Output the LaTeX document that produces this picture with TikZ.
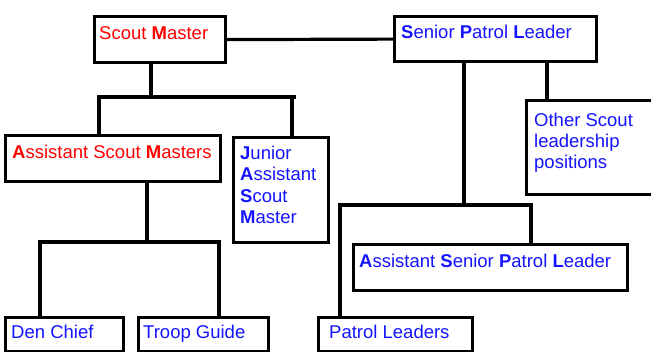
\documentclass[tikz,border=0pt]{standalone}
\usepackage{fontspec}
\setmainfont{Liberation Sans}
\definecolor{tred}{RGB}{255,0,0}
\definecolor{tblue}{RGB}{20,20,255}
\begin{document}
\begin{tikzpicture}[x=1pt,y=-1pt,
  box/.style={draw, line width=3.2pt, inner sep=0pt, anchor=north west, fill=white},
  wire/.style={line width=3.2pt},
  txt/.style={inner sep=0pt, anchor=base west, font=\fontsize{18.5}{21.3}\selectfont},
  rtxt/.style={txt, text=tred},
  btxt/.style={txt, text=tblue}]
\useasboundingbox (0,0) rectangle (651,351);
% boxes
\node[box, minimum width=131pt, minimum height=46pt] (sm) at (93,15) {};
\node[box, minimum width=202pt, minimum height=45pt] (spl) at (393,15) {};
\node[box, minimum width=215pt, minimum height=46pt] (asm) at (4,134) {};
\node[box, minimum width=95pt, minimum height=105pt] (jasm) at (232,136) {};
\node[box, minimum width=140pt, minimum height=94pt] (oth) at (525,99) {};
\node[box, minimum width=274pt, minimum height=46pt] (aspl) at (352,243) {};
\node[box, minimum width=118pt, minimum height=34pt] (den) at (4,316) {};
\node[box, minimum width=130pt, minimum height=34pt] (troop) at (137,316) {};
\node[box, minimum width=154pt, minimum height=34pt] (pl) at (317,316) {};
% texts
\node[rtxt] (smt) at (99,39.5) {Scout \textbf{M}aster};
\node[btxt] (splt) at (401,38.5) {\textbf{S}enior \textbf{P}atrol \textbf{L}eader};
\node[rtxt] (asmt) at (12,158.5) {\textbf{A}ssistant Scout \textbf{M}asters};
\node[btxt] (jt1) at (240,159) {\textbf{J}unior};
\node[btxt] (jt2) at (240,180.5) {\textbf{A}ssistant};
\node[btxt] (jt3) at (240,202) {\textbf{S}cout};
\node[btxt] (jt4) at (240,223) {\textbf{M}aster};
\node[btxt] (ot1) at (534,126) {Other Scout};
\node[btxt] (ot2) at (534,147.5) {leadership};
\node[btxt] (ot3) at (534,168.5) {positions};
\node[btxt] (asplt) at (359,267) {\textbf{A}ssistant \textbf{S}enior \textbf{P}atrol \textbf{L}eader};
\node[btxt] (dent) at (11,338.5) {Den Chief};
\node[btxt] (troopt) at (143,338.5) {Troop Guide};
\node[btxt] (plt) at (329,338.5) {Patrol Leaders};
% junctions
\coordinate (j1) at (151,97);
\coordinate (j1l) at (99,97);
\coordinate (j1r) at (292,97);
\coordinate (j1e) at (296,97);
\coordinate (j2) at (147,242);
\coordinate (j2l) at (40,242);
\coordinate (j2r) at (219,242);
\coordinate (j3) at (464,205);
\coordinate (j3l) at (340,205);
\coordinate (j3r) at (531,205);
\coordinate (j4) at (547,60);
% connectors
\draw[wire] (sm.east) -- (spl.west);
\draw[wire] (sm.south -| j1) -- (j1);
\draw[wire] ([xshift=-1.6pt]j1l) -- (j1e);
\draw[wire] (j1l) -- (asm.north -| j1l);
\draw[wire] (j1r) -- (jasm.north -| j1r);
\draw[wire] (asm.south -| j2) -- (j2);
\draw[wire] ([xshift=-1.6pt]j2l) -- ([xshift=1.6pt]j2r);
\draw[wire] (j2l) -- (den.north -| j2l);
\draw[wire] (j2r) -- (troop.north -| j2r);
\draw[wire] (spl.south -| j3) -- (j3);
\draw[wire] ([xshift=-1.6pt]j3l) -- ([xshift=1.6pt]j3r);
\draw[wire] (j3r) -- (aspl.north -| j3r);
\draw[wire] (j3l) -- (pl.north -| j3l);
\draw[wire] (spl.south -| j4) -- (oth.north -| j4);
\end{tikzpicture}
\end{document}
